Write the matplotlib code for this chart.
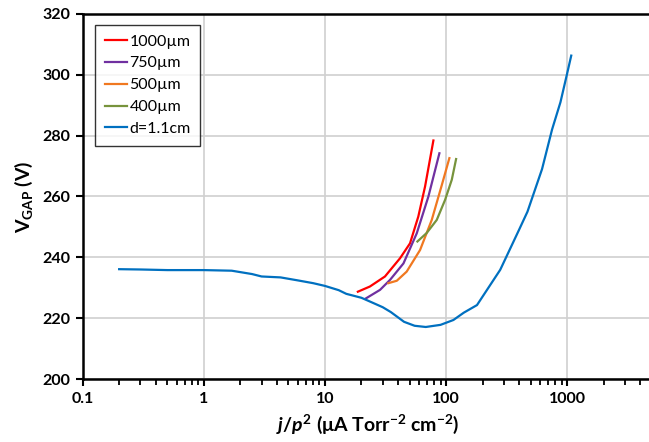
import numpy as np
import matplotlib
matplotlib.use('Agg')
import matplotlib.pyplot as plt
from matplotlib.ticker import FixedLocator, FixedFormatter, LogLocator, NullFormatter

plt.rcParams['font.family'] = ['Lato', 'DejaVu Sans']
plt.rcParams['mathtext.fontset'] = 'custom'
plt.rcParams['mathtext.rm'] = 'Lato:bold'
plt.rcParams['mathtext.it'] = 'Lato:italic:bold'
plt.rcParams['mathtext.bf'] = 'Lato:bold'

# d = 1.1 cm curve
d11_x = [0.2, 0.3, 0.5, 1.0, 1.7, 2.5, 3.0, 4.3, 6.0, 8.0, 10, 13, 15, 20, 25, 30, 35,
         45, 55, 68, 90, 115, 140, 180, 280, 400, 470, 620, 750, 880, 1000, 1080]
d11_v = [236.1, 236.0, 235.8, 235.8, 235.6, 234.5, 233.7, 233.4, 232.4, 231.5, 230.6,
         229.2, 228.0, 226.7, 225.0, 223.6, 222.0, 218.8, 217.5, 217.1, 217.8, 219.4,
         221.8, 224.3, 235.9, 249.0, 255.0, 269.0, 282.0, 291.0, 300.5, 306.3]

# gap curves
g1000_x = [18.7, 23.5, 31.3, 41.7, 50.4, 59.0, 67.1, 78.6]
g1000_v = [228.7, 230.4, 233.7, 239.7, 244.6, 253.4, 263.3, 278.4]
g750_x = [21.8, 28.5, 34.5, 44.5, 57.3, 71.5, 88.1]
g750_v = [226.5, 229.3, 232.6, 238.0, 247.9, 260.0, 274.2]
g500_x = [33.4, 39.2, 47.3, 61.0, 76.2, 92.3, 106.5]
g500_v = [231.5, 232.3, 235.3, 242.4, 252.3, 263.8, 272.6]
g400_x = [58.0, 69.2, 83.8, 98.2, 111.5, 121.0]
g400_v = [245.2, 248.0, 252.3, 258.9, 265.5, 272.3]

fig = plt.figure(figsize=(6.49, 4.42), dpi=100)
ax = fig.add_axes([0.1274, 0.1425, 0.877, 0.826])

ax.plot(g1000_x, g1000_v, color='#FF0000', lw=1.6, label='1000µm')
ax.plot(g750_x, g750_v, color='#7030A0', lw=1.6, label='750µm')
ax.plot(g500_x, g500_v, color='#F07820', lw=1.6, label='500µm')
ax.plot(g400_x, g400_v, color='#77933C', lw=1.6, label='400µm')
ax.plot(d11_x, d11_v, color='#0070C0', lw=1.6, label='d=1.1cm')

ax.set_xscale('log')
ax.set_xlim(0.1, 5000)
ax.set_ylim(200, 320)
ax.set_yticks(np.arange(200, 321, 20))
ax.xaxis.set_major_locator(FixedLocator([0.1, 1, 10, 100, 1000]))
ax.xaxis.set_major_formatter(FixedFormatter(['0.1', '1', '10', '100', '1000']))
ax.xaxis.set_minor_locator(LogLocator(base=10, subs=np.arange(2, 10)))
ax.xaxis.set_minor_formatter(NullFormatter())

ax.grid(True, which='major', color='#D0D0D0', lw=1.2)
ax.set_axisbelow(True)
ax.spines['right'].set_visible(False)
for s in ['left', 'bottom', 'top']:
    ax.spines[s].set_linewidth(1.8)
    ax.spines[s].set_color('black')

ax.tick_params(axis='both', which='major', direction='out', length=5, width=1.5,
               labelsize=11.5, pad=4)
ax.tick_params(axis='x', which='minor', direction='out', length=4, width=1.3)
for lab in ax.get_xticklabels() + ax.get_yticklabels():
    lab.set_fontweight('bold')

ax.set_ylabel(r'V$_{\mathrm{GAP}}$ (V)', fontsize=14, fontweight='bold', labelpad=5)
ax.set_xlabel(r'$j/p^{2}$ ($\mathrm{\mu}$A Torr$^{-2}$ cm$^{-2}$)', fontsize=14,
              fontweight='bold', labelpad=5)

leg = ax.legend(loc='upper left', bbox_to_anchor=(0.0216, 0.97), fontsize=11.5,
                frameon=True, fancybox=False, handlelength=1.4, handletextpad=0.15,
                borderpad=0.6, labelspacing=0.48, borderaxespad=0)
leg.get_frame().set_edgecolor('black')
leg.get_frame().set_linewidth(1.0)

fig.savefig('out.png', dpi=100)
